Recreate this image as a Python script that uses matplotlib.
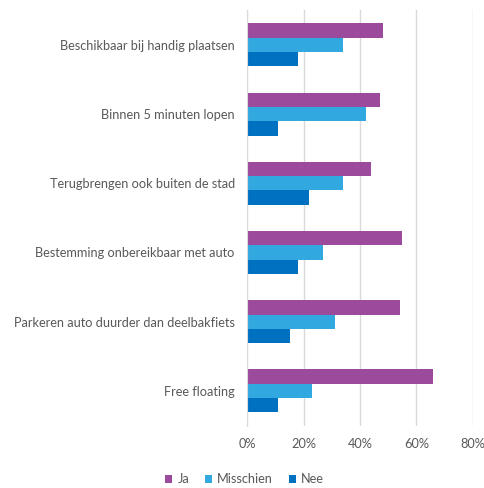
import matplotlib.pyplot as plt
import numpy as np
from matplotlib.ticker import PercentFormatter

categories = ['Beschikbaar bij handig plaatsen', 'Binnen 5 minuten lopen',
              'Terugbrengen ook buiten de stad', 'Bestemming onbereikbaar met auto',
              'Parkeren auto duurder dan deelbakfiets', 'Free floating']
ja = [48, 47, 44, 55, 54, 66]
misschien = [34, 42, 34, 27, 31, 23]
nee = [18, 11, 22, 18, 15, 11]

plt.rcParams['font.family'] = ['Lato', 'DejaVu Sans']
grey = '#595959'

fig = plt.figure(figsize=(4.84, 4.88), dpi=100)
ax = fig.add_axes([0.511, 0.128, 0.466, 0.851])

y = np.arange(len(categories))[::-1]
h = 0.207
ax.barh(y + h, ja, height=h, color='#9C4A9C', label='Ja', zorder=2)
ax.barh(y, misschien, height=h, color='#31A8E0', label='Misschien', zorder=2)
ax.barh(y - h, nee, height=h, color='#0070C0', label='Nee', zorder=2)

ax.set_xlim(0, 80)
ax.set_ylim(-0.5, len(categories) - 0.5)
ax.set_xticks([0, 20, 40, 60, 80])
ax.xaxis.set_major_formatter(PercentFormatter(decimals=0))
ax.set_yticks(y)
ax.set_yticklabels(categories)
ax.grid(axis='x', color='#D9D9D9', linewidth=1, zorder=0)
for s in ['top', 'right', 'bottom']:
    ax.spines[s].set_visible(False)
ax.spines['left'].set_color('#D9D9D9')
ax.tick_params(length=0, colors=grey, labelsize=9.2)
ax.tick_params(axis='x', pad=9)
ax.tick_params(axis='y', pad=9)

fig.legend(loc='lower center', bbox_to_anchor=(0.505, -0.018), ncol=3, frameon=False,
           fontsize=9.2, labelcolor=grey, handlelength=0.6, handleheight=0.6,
           handletextpad=0.4, columnspacing=1.2)

fig.savefig('out.png', dpi=100)
